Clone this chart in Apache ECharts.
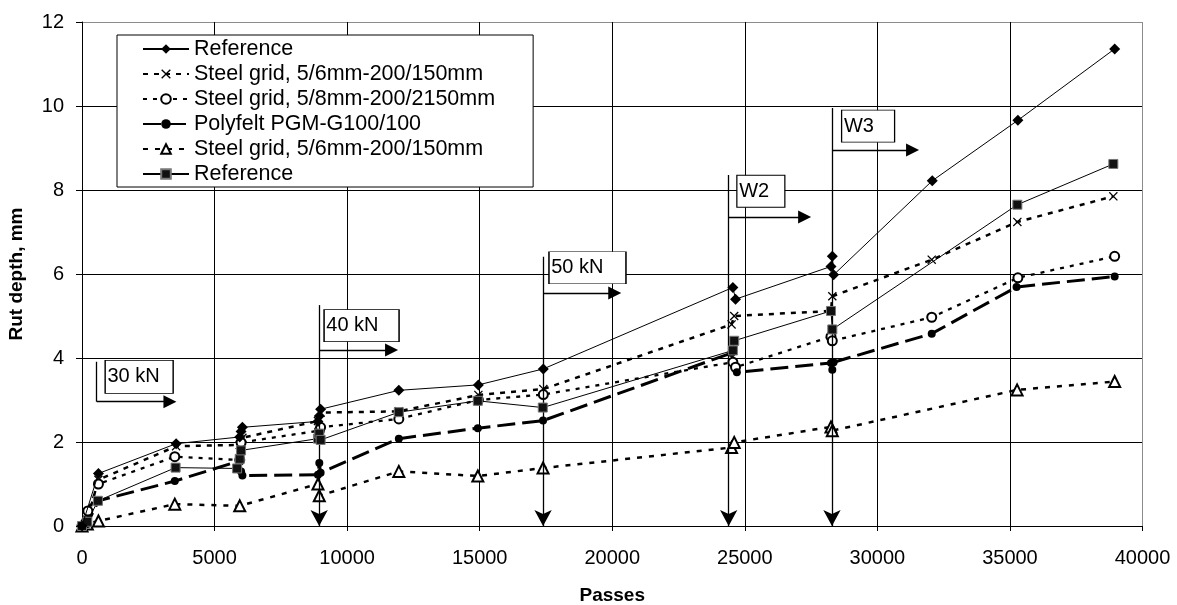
<!DOCTYPE html>
<html><head><meta charset="utf-8">
<script src="https://cdn.jsdelivr.net/npm/echarts@6/dist/echarts.min.js"></script>
<style>html,body{margin:0;padding:0;background:#fff}#c{width:1177px;height:605px}</style>
</head><body><div id="c"></div>
<script>
// ---- data ----
const seriesNames = [
  'Reference',
  'Steel grid, 5/6mm-200/150mm',
  'Steel grid, 5/8mm-200/2150mm',
  'Polyfelt PGM-G100/100',
  'Steel grid, 5/6mm-200/150mm ',
  'Reference '
];
const refDiamond = [[0,0],[620,1.25],[3550,1.96],[5950,2.12],[6000,2.25],[6050,2.35],[8900,2.49],[8950,2.62],[9000,2.78],[11950,3.23],[14950,3.36],[17400,3.74],[24550,5.68],[24650,5.40],[28250,6.18],[28300,6.42],[28350,5.98],[32070,8.22],[35300,9.66],[38950,11.36]];
const steelCross = [[0,0],[200,0.15],[620,1.1],[3550,1.9],[5950,1.93],[6050,2.1],[8900,2.5],[9000,2.7],[11950,2.73],[14950,3.12],[17400,3.26],[24500,4.8],[24600,5.0],[28250,5.12],[28300,5.47],[32050,6.34],[35280,7.24],[38900,7.85]];
const steelCircle = [[0,0],[220,0.36],[620,1.0],[3500,1.65],[5950,1.57],[6000,1.99],[8950,2.27],[9000,2.35],[11950,2.55],[14950,3.0],[17400,3.13],[24550,3.9],[24650,3.78],[28250,4.51],[28300,4.41],[32050,4.97],[35300,5.91],[38950,6.42]];
const polyfelt = [[0,0],[200,0.05],[620,0.6],[3500,1.07],[5950,1.55],[6000,1.3],[6050,1.2],[8900,1.22],[8950,1.5],[9000,1.27],[11950,2.08],[14930,2.33],[17390,2.51],[24500,4.12],[24700,3.66],[28250,3.88],[28300,3.72],[28350,3.9],[32050,4.58],[35250,5.69],[38950,5.94]];
const steelTriangle = [[0,0],[200,0.05],[620,0.12],[3500,0.52],[5950,0.48],[8900,1.0],[8950,0.72],[11950,1.3],[14930,1.19],[17390,1.38],[24500,1.87],[24600,1.99],[28250,2.36],[28300,2.27],[35270,3.24],[38950,3.44]];
const refSquare = [[0,0],[200,0.1],[600,0.6],[3530,1.39],[5850,1.37],[5950,1.6],[6000,1.8],[8900,2.08],[8950,2.2],[9000,2.05],[11950,2.71],[14930,2.98],[17380,2.82],[24550,4.18],[24600,4.41],[28250,5.12],[28300,4.68],[35280,7.65],[38900,8.62]];
const xRange = [0, 40000, 5000];
const yRange = [0, 12, 2];

// ---- annotations (load steps) in data coordinates ----
const loadSteps = [
  {label:'30 kN', x:554,   yTop:3.91, yArrow:2.96, xEnd:3318,  toAxis:false, bx:2156,  by:3.55, box:[68,33]},
  {label:'40 kN', x:8946,  yTop:5.26, yArrow:4.19, xEnd:11676, toAxis:true,  bx:10545, by:4.77, box:[75,32]},
  {label:'50 kN', x:17391, yTop:6.41, yArrow:5.55, xEnd:20094, toAxis:true,  bx:19065, by:6.15, box:[77,32]},
  {label:'W2',    x:24392, yTop:8.36, yArrow:7.36, xEnd:27257, toAxis:true,  bx:25605, by:7.97, box:[48,32]},
  {label:'W3',    x:28287, yTop:9.95, yArrow:8.95, xEnd:31328, toAxis:true,  bx:29650, by:9.52, box:[53,32]}
];

const FONT = 'Liberation Sans, Arial, sans-serif';
const crossPath = 'path://M0,1L1,0L5,4L9,0L10,1L6,5L10,9L9,10L5,6L1,10L0,9L4,5Z';

const lines = [];
const points = [];
loadSteps.forEach(s => {
  lines.push([{coord:[s.x, s.yTop], symbol:'none'},
              {coord:[s.x, s.toAxis ? 0 : s.yArrow], symbol: s.toAxis ? 'arrow' : 'none', symbolSize:[13,16]}]);
  lines.push([{coord:[s.x, s.yArrow], symbol:'none'},
              {coord:[s.xEnd, s.yArrow], symbol:'triangle', symbolSize:[13,13]}]);
  points.push({name:s.label, coord:[s.bx, s.by], symbol:'rect', symbolSize:s.box});
});

function grayLast(n){ const a=[]; for(let i=0;i<n-1;i++) a.push('#000'); a.push('#8c8c8c'); return a; }

const chart = echarts.init(document.getElementById('c'), null, {renderer:'canvas'});
chart.setOption({
  animation:false,
  backgroundColor:'#fff',
  grid:{left:82, top:22, right:34.5, bottom:79, containLabel:false, outerBoundsMode:'none'},
  xAxis:{
    type:'value', min:xRange[0], max:xRange[1], interval:xRange[2],
    name:'Passes', nameLocation:'middle', nameGap:60,
    nameTextStyle:{fontFamily:FONT, fontWeight:'bold', fontSize:19, color:'#000'},
    axisLine:{show:true, lineStyle:{color:'#000', width:1}},
    axisTick:{show:true, length:5, lineStyle:{color:'#000'}},
    axisLabel:{fontFamily:FONT, fontSize:20, color:'#000', margin:22, formatter:v=>String(v)},
    splitLine:{show:true, lineStyle:{color:grayLast(9), width:1}}
  },
  yAxis:{
    type:'value', min:yRange[0], max:yRange[1], interval:yRange[2],
    name:'Rut depth, mm', nameLocation:'middle', nameGap:56,
    nameTextStyle:{fontFamily:FONT, fontWeight:'bold', fontSize:19, color:'#000'},
    axisLine:{show:true, lineStyle:{color:'#000', width:1}},
    axisTick:{show:true, length:6, lineStyle:{color:'#000'}},
    axisLabel:{fontFamily:FONT, fontSize:20, color:'#000', margin:18, formatter:v=>String(v)},
    splitLine:{show:true, lineStyle:{color:grayLast(7), width:1}}
  },
  legend:{
    orient:'vertical', left:117, top:35, padding:[3,38,2,25],
    itemWidth:46, itemHeight:12, itemGap:3,
    backgroundColor:'#fff', borderColor:'#000', borderWidth:1, borderRadius:0,
    textStyle:{fontFamily:FONT, fontSize:21.5, color:'#000', lineHeight:21},
    data:seriesNames, formatter:n=>n.trim()
  },
  series:[
    {name:seriesNames[0], type:'line', data:refDiamond, symbol:'diamond', symbolSize:[11,11],
     lineStyle:{color:'#000', width:1}, itemStyle:{color:'#000'}, z:6},
    {name:seriesNames[1], type:'line', data:steelCross, symbol:crossPath, symbolSize:9,
     lineStyle:{color:'#000', width:2.5, type:[5,6]}, itemStyle:{color:'#000'}, z:3},
    {name:seriesNames[2], type:'line', data:steelCircle, symbol:'emptyCircle', symbolSize:9,
     lineStyle:{color:'#000', width:2.3, type:[4,6]}, itemStyle:{color:'#000', borderWidth:1}, z:4},
    {name:seriesNames[3], type:'line', data:polyfelt, symbol:'circle', symbolSize:8,
     lineStyle:{color:'#000', width:3, type:[18,7]}, itemStyle:{color:'#000'}, z:4},
    {name:seriesNames[4], type:'line', data:steelTriangle, symbol:'emptyTriangle', symbolSize:11,
     lineStyle:{color:'#000', width:2.5, type:[5,7]}, itemStyle:{color:'#000', borderWidth:1}, z:3},
    {name:seriesNames[5], type:'line', data:refSquare, symbol:'rect', symbolSize:9,
     lineStyle:{color:'#000', width:1}, itemStyle:{color:'#111', borderColor:'#777', borderWidth:1}, z:5},
    {name:'__notes', type:'scatter', data:[], silent:true, z:7,
     markLine:{silent:true, animation:false, symbol:['none','none'],
       lineStyle:{color:'#000', width:1.3, type:'solid'}, label:{show:false},
       emphasis:{disabled:true}, data:lines},
     markPoint:{silent:true, animation:false,
       itemStyle:{color:'#fff', borderColor:'#000', borderWidth:1},
       label:{show:true, position:'insideLeft', distance:3, formatter:'{b}', color:'#000', fontSize:20, fontFamily:FONT},
       data:points}
    }
  ]
});
</script></body></html>
